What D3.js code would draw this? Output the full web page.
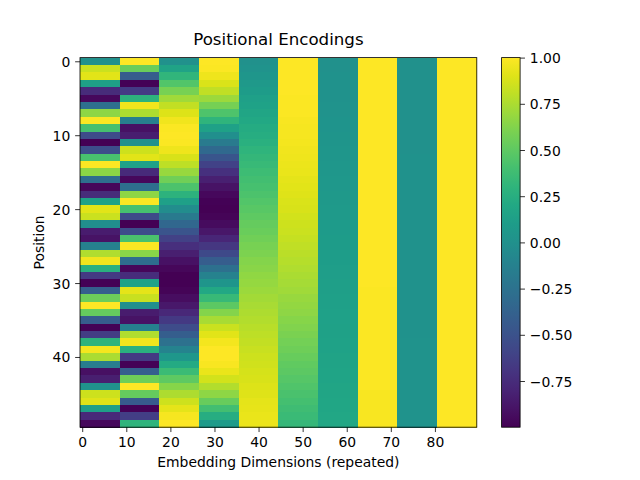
<!DOCTYPE html>
<html>
<head>
<meta charset="utf-8">
<script src="https://cdn.jsdelivr.net/npm/d3@7"></script>
<style>
  body { margin: 0; background: #fff; }
  text { font-family: "DejaVu Sans", sans-serif; fill: #000; }
</style>
</head>
<body>
<svg id="chart" width="640" height="480"></svg>
<script>
// sin / cos pairs for 10 embedding dimensions, positions 0..49
const dim0 = [0.000, 0.841, 0.909, 0.141, -0.757, -0.959, -0.279, 0.657, 0.989, 0.412,
  -0.544, -0.99999, -0.537, 0.420, 0.991, 0.650, -0.288, -0.961, -0.751, 0.150,
  0.913, 0.837, -0.009, -0.846, -0.906, -0.132, 0.763, 0.956, 0.271, -0.664,
  -0.988, -0.404, 0.551, 1.000, 0.529, -0.428, -0.992, -0.644, 0.296, 0.964,
  0.745, -0.159, -0.917, -0.832, 0.018, 0.851, 0.902, 0.124, -0.768, -0.954];
const dim1 = [1.000, 0.540, -0.416, -0.990, -0.654, 0.284, 0.960, 0.754, -0.146, -0.911,
  -0.839, 0.004, 0.844, 0.907, 0.137, -0.760, -0.958, -0.275, 0.660, 0.989,
  0.408, -0.548, -0.99996, -0.533, 0.424, 0.991, 0.647, -0.292, -0.963, -0.748,
  0.154, 0.915, 0.834, -0.013, -0.849, -0.904, -0.128, 0.765, 0.955, 0.267,
  -0.667, -0.987, -0.400, 0.555, 1.000, 0.525, -0.432, -0.992, -0.640, 0.300];
const dim2 = [0.000, 0.158, 0.312, 0.458, 0.592, 0.712, 0.814, 0.896, 0.955, 0.990,
  1.000, 0.985, 0.946, 0.882, 0.797, 0.692, 0.569, 0.432, 0.285, 0.130,
  -0.028, -0.186, -0.338, -0.483, -0.615, -0.732, -0.830, -0.908, -0.963, -0.993,
  -0.999, -0.980, -0.936, -0.869, -0.780, -0.671, -0.546, -0.407, -0.258, -0.102,
  0.056, 0.213, 0.365, 0.507, 0.637, 0.751, 0.846, 0.919, 0.970, 0.996];
const dim3 = [1.000, 0.987, 0.950, 0.889, 0.806, 0.702, 0.581, 0.445, 0.298, 0.144,
  -0.014, -0.172, -0.325, -0.471, -0.604, -0.722, -0.822, -0.902, -0.959, -0.992,
  -1.000, -0.983, -0.941, -0.876, -0.789, -0.682, -0.558, -0.420, -0.271, -0.116,
  0.042, 0.199, 0.351, 0.495, 0.626, 0.741, 0.838, 0.914, 0.966, 0.995,
  0.998, 0.977, 0.931, 0.862, 0.771, 0.661, 0.534, 0.394, 0.244, 0.088];
const dim4 = [0.000, 0.025, 0.050, 0.075, 0.100, 0.125, 0.150, 0.175, 0.200, 0.224,
  0.249, 0.273, 0.297, 0.321, 0.344, 0.368, 0.391, 0.414, 0.437, 0.459,
  0.481, 0.503, 0.525, 0.546, 0.567, 0.588, 0.608, 0.627, 0.647, 0.666,
  0.684, 0.702, 0.720, 0.737, 0.754, 0.770, 0.786, 0.801, 0.816, 0.830,
  0.844, 0.857, 0.870, 0.882, 0.894, 0.905, 0.915, 0.925, 0.934, 0.943];
const dim5 = [1.000, 1.000, 0.999, 0.997, 0.995, 0.992, 0.989, 0.985, 0.980, 0.975,
  0.969, 0.962, 0.955, 0.947, 0.939, 0.930, 0.920, 0.910, 0.900, 0.888,
  0.876, 0.864, 0.851, 0.838, 0.824, 0.809, 0.794, 0.779, 0.763, 0.746,
  0.729, 0.712, 0.694, 0.676, 0.657, 0.638, 0.618, 0.598, 0.578, 0.557,
  0.536, 0.515, 0.493, 0.471, 0.449, 0.427, 0.404, 0.381, 0.358, 0.334];
const dim6 = [0.000, 0.004, 0.008, 0.012, 0.016, 0.020, 0.024, 0.028, 0.032, 0.036,
  0.040, 0.044, 0.048, 0.052, 0.056, 0.060, 0.064, 0.068, 0.072, 0.076,
  0.080, 0.084, 0.088, 0.092, 0.096, 0.099, 0.103, 0.107, 0.111, 0.115,
  0.119, 0.123, 0.127, 0.131, 0.135, 0.139, 0.143, 0.147, 0.151, 0.155,
  0.159, 0.163, 0.167, 0.171, 0.175, 0.178, 0.182, 0.186, 0.190, 0.194];
const dim7 = [1.000, 1.000, 1.000, 1.000, 1.000, 1.000, 1.000, 1.000, 0.999, 0.999,
  0.999, 0.999, 0.999, 0.999, 0.998, 0.998, 0.998, 0.998, 0.997, 0.997,
  0.997, 0.996, 0.996, 0.996, 0.995, 0.995, 0.995, 0.994, 0.994, 0.993,
  0.993, 0.992, 0.992, 0.991, 0.991, 0.990, 0.990, 0.989, 0.989, 0.988,
  0.987, 0.987, 0.986, 0.985, 0.985, 0.984, 0.983, 0.983, 0.982, 0.981];
const dim8 = [0.0000, 0.0006, 0.0013, 0.0019, 0.0025, 0.0032, 0.0038, 0.0044, 0.0050, 0.0057,
  0.0063, 0.0069, 0.0076, 0.0082, 0.0088, 0.0095, 0.0101, 0.0107, 0.0114, 0.0120,
  0.0126, 0.0133, 0.0139, 0.0145, 0.0151, 0.0158, 0.0164, 0.0170, 0.0177, 0.0183,
  0.0189, 0.0196, 0.0202, 0.0208, 0.0215, 0.0221, 0.0227, 0.0233, 0.0240, 0.0246,
  0.0252, 0.0259, 0.0265, 0.0271, 0.0278, 0.0284, 0.0290, 0.0297, 0.0303, 0.0309];
const dim9 = [1.0000, 1.0000, 1.0000, 1.0000, 1.0000, 1.0000, 1.0000, 1.0000, 1.0000, 1.0000,
  1.0000, 1.0000, 1.0000, 1.0000, 1.0000, 1.0000, 0.9999, 0.9999, 0.9999, 0.9999,
  0.9999, 0.9999, 0.9999, 0.9999, 0.9999, 0.9999, 0.9999, 0.9999, 0.9998, 0.9998,
  0.9998, 0.9998, 0.9998, 0.9998, 0.9998, 0.9998, 0.9997, 0.9997, 0.9997, 0.9997,
  0.9997, 0.9997, 0.9996, 0.9996, 0.9996, 0.9996, 0.9996, 0.9996, 0.9995, 0.9995];

const dims = [dim0, dim1, dim2, dim3, dim4, dim5, dim6, dim7, dim8, dim9];
const repeat = 9;             // each dimension shown as 9 columns
const nPos = dim0.length;
const nCols = dims.length * repeat;

const xTicks = [0, 10, 20, 30, 40, 50, 60, 70, 80];
const yTicks = [0, 10, 20, 30, 40];
const cbTicks = [-0.75, -0.5, -0.25, 0, 0.25, 0.5, 0.75, 1.0];

// build cells
const cells = [];
for (let p = 0; p < nPos; p++) {
  for (let c = 0; c < nCols; c++) {
    cells.push({ row: p, col: c, value: dims[Math.floor(c / repeat)][p] });
  }
}

const plot = { left: 80, right: 476.8, top: 57.6, bottom: 427.2 };
const cbar = { left: 501.6, right: 520.1 };

const svg = d3.select("#chart");

const x = d3.scaleLinear().domain([-0.5, nCols - 0.5]).range([plot.left, plot.right]);
const y = d3.scaleLinear().domain([-0.5, nPos - 0.5]).range([plot.top, plot.bottom]);
const extent = d3.extent(cells, (d) => d.value);
const color = d3.scaleSequential(d3.interpolateViridis).domain(extent);

svg.append("g")
  .attr("shape-rendering", "crispEdges")
  .selectAll("rect")
  .data(cells)
  .join("rect")
  .attr("x", (d) => x(d.col - 0.5))
  .attr("y", (d) => y(d.row - 0.5))
  .attr("width", x(1) - x(0) + 0.4)
  .attr("height", y(1) - y(0) + 0.4)
  .attr("fill", (d) => color(d.value));

const fmtMinus = (s) => s.replace("-", "\u2212");

const xAxis = svg.append("g")
  .attr("transform", `translate(0,${plot.bottom})`)
  .call(d3.axisBottom(x).tickValues(xTicks).tickSize(4.86).tickPadding(4.86).tickSizeOuter(0));
const yAxis = svg.append("g")
  .attr("transform", `translate(${plot.left},0)`)
  .call(d3.axisLeft(y).tickValues(yTicks).tickSize(4.86).tickPadding(4.86).tickSizeOuter(0));

[xAxis, yAxis].forEach((g) => {
  g.select(".domain").remove();
  g.selectAll(".tick line").attr("stroke", "#000").attr("stroke-width", 0.8);
  g.selectAll(".tick text")
    .attr("font-family", "DejaVu Sans, sans-serif")
    .attr("font-size", 13.9)
    .attr("fill", "#000");
});
yAxis.selectAll(".tick text").attr("dy", "0.36em");

svg.append("rect")
  .attr("x", plot.left).attr("y", plot.top)
  .attr("width", plot.right - plot.left).attr("height", plot.bottom - plot.top)
  .attr("fill", "none").attr("stroke", "#000").attr("stroke-width", 0.8);

// title and axis labels
svg.append("text")
  .attr("x", (plot.left + plot.right) / 2).attr("y", 45.4)
  .attr("text-anchor", "middle").attr("font-size", 16.67)
  .text("Positional Encodings");
svg.append("text")
  .attr("x", (plot.left + plot.right) / 2).attr("y", 467)
  .attr("text-anchor", "middle").attr("font-size", 13.9)
  .text("Embedding Dimensions (repeated)");
svg.append("text")
  .attr("transform", `translate(43.5,${(plot.top + plot.bottom) / 2}) rotate(-90)`)
  .attr("text-anchor", "middle").attr("font-size", 13.9)
  .text("Position");

// colorbar
const cy = d3.scaleLinear().domain(extent).range([plot.bottom, plot.top]);
const grad = svg.append("defs").append("linearGradient")
  .attr("id", "cbgrad").attr("x1", 0).attr("y1", 1).attr("x2", 0).attr("y2", 0);
d3.range(0, 1.0001, 0.05).forEach((t) => {
  grad.append("stop").attr("offset", t).attr("stop-color", d3.interpolateViridis(t));
});
svg.append("rect")
  .attr("x", cbar.left).attr("y", plot.top)
  .attr("width", cbar.right - cbar.left).attr("height", plot.bottom - plot.top)
  .attr("fill", "url(#cbgrad)")
  .attr("stroke", "#000").attr("stroke-width", 0.8);

const cAxis = svg.append("g")
  .attr("transform", `translate(${cbar.right},0)`)
  .call(d3.axisRight(cy).tickValues(cbTicks)
    .tickFormat((d) => fmtMinus(d3.format(".2f")(d)))
    .tickSize(4.86).tickPadding(4.86).tickSizeOuter(0));
cAxis.select(".domain").remove();
cAxis.selectAll(".tick line").attr("stroke", "#000").attr("stroke-width", 0.8);
cAxis.selectAll(".tick text")
  .attr("font-family", "DejaVu Sans, sans-serif")
  .attr("font-size", 13.9)
  .attr("fill", "#000")
  .attr("dy", "0.36em");
</script>
</body>
</html>
